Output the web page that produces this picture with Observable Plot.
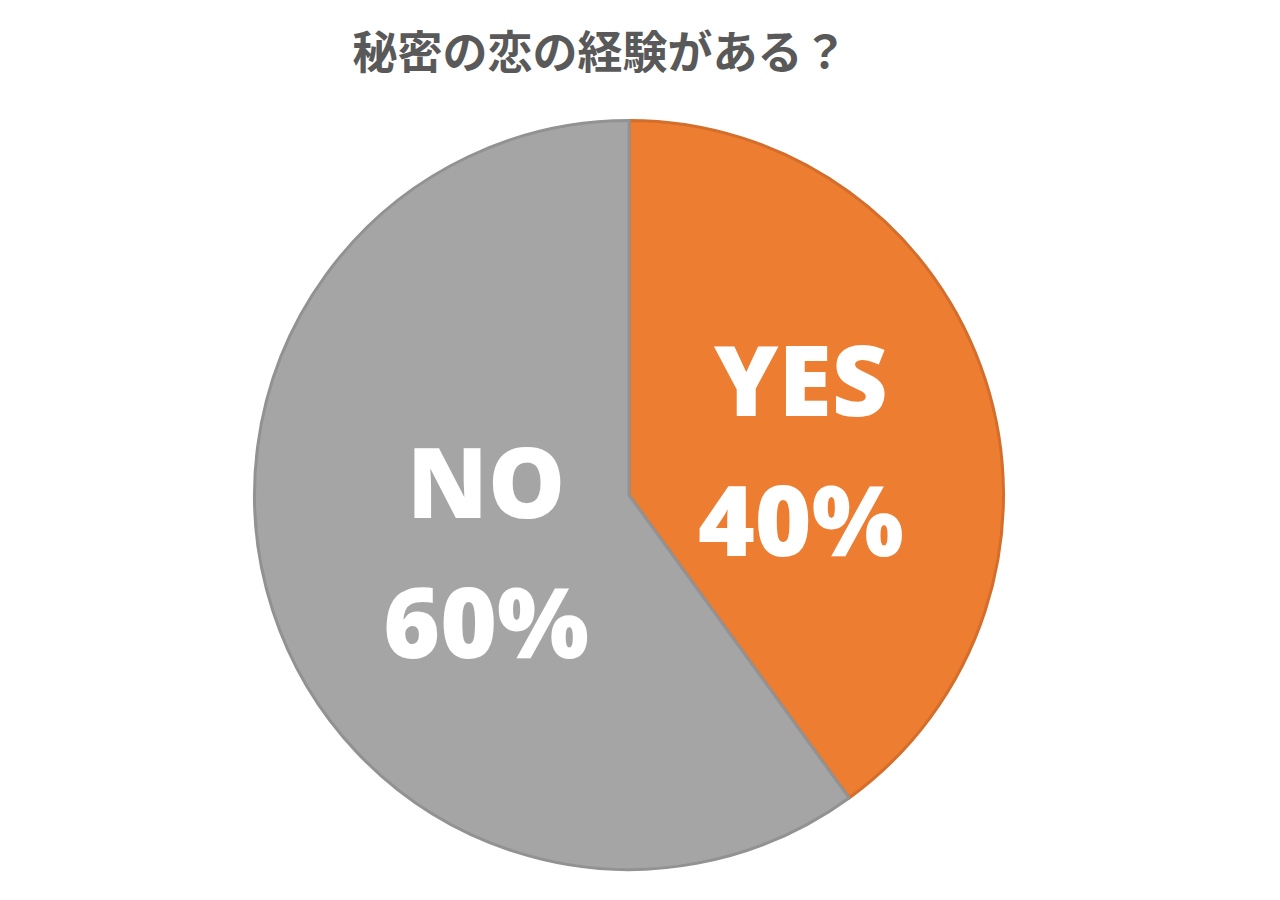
<!DOCTYPE html>
<html>
<head>
<meta charset="utf-8">
<script src="https://cdn.jsdelivr.net/npm/d3@7"></script>
<script src="https://cdn.jsdelivr.net/npm/@observablehq/plot@0.6"></script>
<style>
  html, body { margin: 0; padding: 0; background: #ffffff; }
  body { width: 1280px; height: 900px; overflow: hidden; }
  #title {
    width: 1200px; height: 100px; line-height: 100px;
    text-align: center;
    font-family: "Noto Sans CJK JP", sans-serif;
    font-weight: 700; font-size: 45px; color: #595959;
  }
  #chart svg { display: block; }
</style>
</head>
<body>
<div id="title">秘密の恋の経験がある？</div>
<div id="chart"></div>
<script>
// ---- data ----
const categories = ["YES", "NO"];
const values = [40, 60];
const percentLabels = ["40%", "60%"];

// ---- styling config ----
const fillScale = Plot.scale({color: {type: "ordinal", domain: categories, range: ["#ED7D31", "#A5A5A5"]}});
const strokeScale = Plot.scale({color: {type: "ordinal", domain: categories, range: ["#D46E2A", "#929292"]}});

const rows = categories.map((c, i) => ({cat: c, value: values[i], pct: percentLabels[i]}));
const arcs = d3.pie().sort(null).value(d => d.value)(rows);

const labelK = 0.44;
const labelRows = arcs.map(a => {
  const mid = (a.startAngle + a.endAngle) / 2;
  return {cat: a.data.cat, pct: a.data.pct, x: Math.sin(mid) * labelK, y: Math.cos(mid) * labelK};
});

function pieSlices(index, scales) {
  const cx = scales.x(0), cy = scales.y(0);
  const r = scales.x(1) - scales.x(0);
  const arc = d3.arc().innerRadius(0).outerRadius(r - 1.5);
  const g = d3.create("svg:g").attr("transform", `translate(${cx},${cy})`);
  g.selectAll("path").data(arcs).join("path")
    .attr("d", arc)
    .attr("fill", d => fillScale.apply(d.data.cat))
    .attr("stroke", d => strokeScale.apply(d.data.cat))
    .attr("stroke-width", 3)
    .attr("stroke-linejoin", "round");
  return g.node();
}

const cxPx = 629, cyPx = 395, rPx = 376;

const chart = Plot.plot({
  width: 1280,
  height: 800,
  margin: 0,
  style: {background: "#ffffff"},
  x: {domain: [-1, 1], range: [cxPx - rPx, cxPx + rPx], axis: null},
  y: {domain: [-1, 1], range: [cyPx + rPx, cyPx - rPx], axis: null},
  marks: [
    pieSlices,
    Plot.text(labelRows, {
      x: "x", y: "y",
      dx: 14, dy: -3,
      text: d => `${d.cat}\n${d.pct}`,
      fill: "#ffffff",
      fontSize: 97,
      fontWeight: 800,
      fontFamily: "Open Sans",
      lineHeight: 1.44
    })
  ]
});
document.getElementById("chart").appendChild(chart);
</script>
</body>
</html>
